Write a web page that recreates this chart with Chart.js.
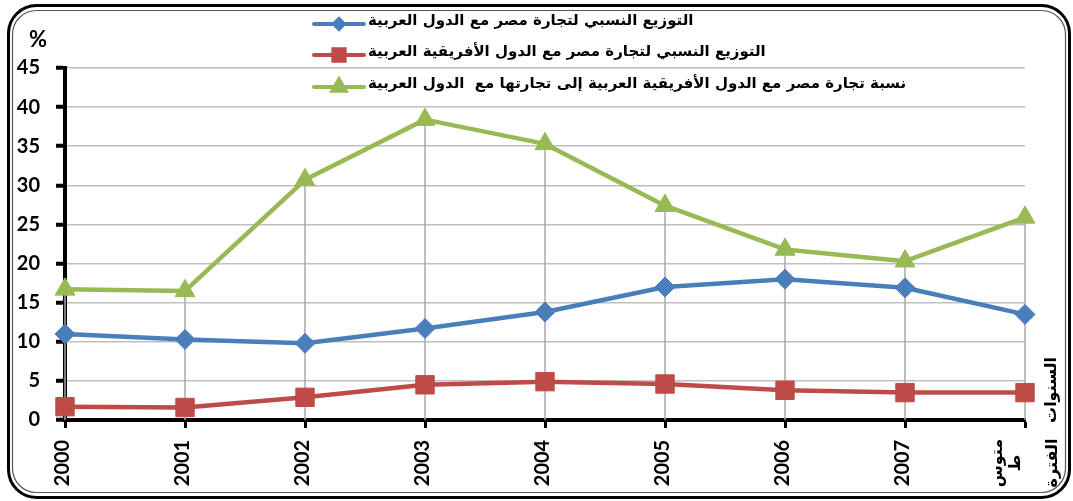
<!DOCTYPE html>
<html>
<head>
<meta charset="utf-8">
<script src="https://cdn.jsdelivr.net/npm/chart.js@4.4.1/dist/chart.umd.min.js"></script>
<style>
  html, body { margin: 0; padding: 0; background: #fff; }
</style>
</head>
<body>
<canvas id="tradeChart" width="1073" height="501"></canvas>
<script>
// data
const categories = ['2000', '2001', '2002', '2003', '2004', '2005', '2006', '2007', ['متوس', 'ط', '', 'الفترة']];
const arabShare = [11.0, 10.3, 9.8, 11.7, 13.8, 17.0, 18.0, 16.9, 13.5];
const africanArabShare = [1.7, 1.6, 2.9, 4.5, 4.9, 4.6, 3.8, 3.5, 3.5];
const africanOfArabShare = [16.7, 16.5, 30.7, 38.4, 35.3, 27.4, 21.8, 20.3, 25.9];
const seriesNames = [
  'التوزيع النسبي لتجارة مصر مع الدول العربية',
  'التوزيع النسبي لتجارة مصر مع الدول الأفريقية العربية',
  'نسبة تجارة مصر مع الدول الأفريقية العربية إلى تجارتها مع  الدول العربية'
];
const yTicks = [0, 5, 10, 15, 20, 25, 30, 35, 40, 45];
const yUnit = '%';
const xTitle = 'السنوات';

const numFont = 'Lato, "DejaVu Sans", sans-serif';
const arFont = '"DejaVu Sans", sans-serif';

// rounded double frame round the whole picture
const framePlugin = {
  id: 'frame',
  beforeDraw(chart) {
    const ctx = chart.ctx;
    ctx.save();
    ctx.fillStyle = '#fff';
    ctx.fillRect(0, 0, chart.width, chart.height);
    ctx.beginPath();
    ctx.roundRect(8.5, 5.5, 1061, 492, 28);
    ctx.lineWidth = 3;
    ctx.strokeStyle = '#000';
    ctx.stroke();
    ctx.beginPath();
    ctx.roundRect(12.5, 10.5, 1053, 482, 24);
    ctx.lineWidth = 1.2;
    ctx.strokeStyle = '#555';
    ctx.stroke();
    ctx.restore();
  }
};

// Excel style drop lines from the highest point down to the axis
const dropLinePlugin = {
  id: 'dropLines',
  beforeDatasetsDraw(chart) {
    const x = chart.scales.x, y = chart.scales.y, ctx = chart.ctx;
    ctx.save();
    ctx.strokeStyle = '#A8A8A8';
    ctx.lineWidth = 1.5;
    categories.forEach((c, i) => {
      const top = Math.max(...chart.data.datasets.map(d => d.data[i]));
      const px = x.getPixelForValue(i);
      ctx.beginPath();
      ctx.moveTo(px, y.getPixelForValue(top));
      ctx.lineTo(px, y.getPixelForValue(0));
      ctx.stroke();
    });
    ctx.restore();
  }
};

// rotated category labels, axis titles and the legend
const textPlugin = {
  id: 'texts',
  afterDraw(chart) {
    const ctx = chart.ctx, x = chart.scales.x;
    ctx.save();
    ctx.fillStyle = '#000';
    ctx.textBaseline = 'middle';
    ctx.textAlign = 'center';

    categories.forEach((label, i) => {
      const lines = Array.isArray(label) ? label : [label];
      const px = x.getPixelForTick(i);
      lines.forEach((line, j) => {
        if (!line) return;
        const numeric = /^\d+$/.test(line);
        const cx = numeric ? px - 2 : px + 0.5 + (j - (lines.length - 1) / 2) * 18.5;
        ctx.save();
        ctx.translate(cx, 463);
        ctx.rotate(-Math.PI / 2);
        ctx.font = numeric ? 'bold 20px ' + numFont : 'bold 16px ' + arFont;
        ctx.fillText(line, 0, 0);
        ctx.restore();
      });
    });

    ctx.save();
    ctx.translate(1052, 390);
    ctx.rotate(-Math.PI / 2);
    ctx.font = 'bold 16px ' + arFont;
    ctx.fillText(xTitle, 0, 0);
    ctx.restore();

    ctx.font = 'bold 22px ' + numFont;
    ctx.fillText(yUnit, 38, 40);

    // legend
    const rows = [24, 55, 87];
    chart.data.datasets.forEach((ds, i) => {
      const ry = rows[i];
      ctx.strokeStyle = ds.borderColor;
      ctx.fillStyle = ds.borderColor;
      ctx.lineWidth = 4;
      ctx.lineCap = 'round';
      ctx.beginPath();
      ctx.moveTo(314, ry);
      ctx.lineTo(364, ry);
      ctx.stroke();
      Chart.helpers.drawPoint(ctx, {
        pointStyle: ds.pointStyle,
        radius: [5, 8, 7.5][i],
        rotation: 0,
        borderWidth: 1
      }, 339, ry);
      ctx.fillStyle = '#000';
      ctx.textAlign = 'left';
      ctx.font = 'bold 15px ' + arFont;
      ctx.fillText(ds.label, 368, ry - 3);
    });
    ctx.restore();
  }
};

const lineDataset = (label, data, color, style, radius) => ({
  label: label,
  data: data,
  borderColor: color,
  backgroundColor: color,
  pointBackgroundColor: color,
  pointBorderColor: color,
  pointStyle: style,
  pointRadius: radius,
  pointHoverRadius: radius,
  pointBorderWidth: 1,
  borderWidth: 4.5,
  borderCapStyle: 'round',
  borderJoinStyle: 'round',
  tension: 0,
  clip: false
});

new Chart(document.getElementById('tradeChart'), {
  type: 'line',
  data: {
    labels: categories,
    datasets: [
      lineDataset(seriesNames[0], arabShare, '#4A7EBB', 'rectRot', 10),
      lineDataset(seriesNames[1], africanArabShare, '#BE4B48', 'rect', 13),
      lineDataset(seriesNames[2], africanOfArabShare, '#98B954', 'triangle', 11.5)
    ]
  },
  options: {
    responsive: false,
    animation: false,
    layout: { padding: { top: 68, right: 48, left: 0, bottom: 0 } },
    plugins: {
      legend: { display: false },
      title: { display: false },
      tooltip: { enabled: false }
    },
    scales: {
      x: {
        offset: false,
        afterFit(scale) { scale.height = 81; },
        ticks: { display: false },
        grid: {
          drawOnChartArea: false,
          drawTicks: true,
          tickLength: 8,
          tickWidth: 3,
          tickColor: '#000'
        },
        border: { display: true, color: '#000', width: 4 }
      },
      y: {
        min: 0,
        max: 45,
        afterFit(scale) { scale.width = 65; },
        afterBuildTicks(scale) { scale.ticks = yTicks.map(v => ({ value: v })); },
        ticks: {
          padding: 16,
          color: '#000',
          font: { family: numFont, size: 20, weight: 'bold' }
        },
        grid: {
          color: ctx => ctx.tick && ctx.tick.value === 0 ? 'rgba(0,0,0,0)' : '#BFBFBF',
          lineWidth: 1.5,
          tickLength: 9,
          tickWidth: 4,
          tickColor: '#000'
        },
        border: { display: true, color: '#000', width: 4 }
      }
    }
  },
  plugins: [framePlugin, dropLinePlugin, textPlugin]
});
</script>
</body>
</html>
